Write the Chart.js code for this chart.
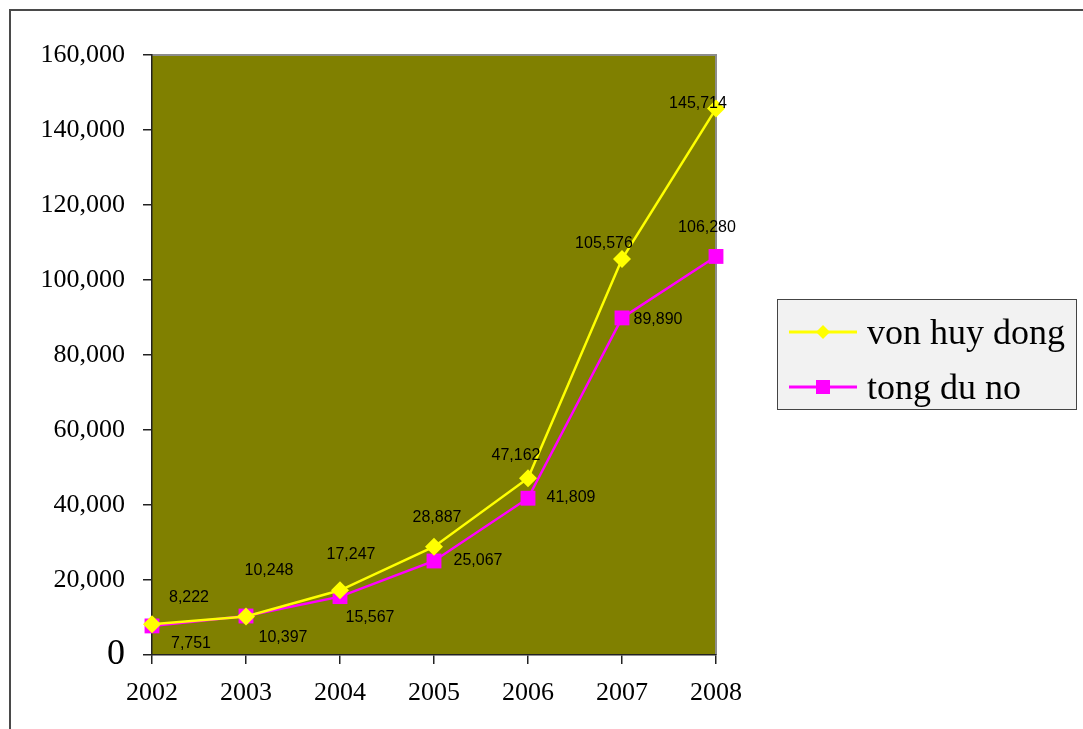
<!DOCTYPE html>
<html>
<head>
<meta charset="utf-8">
<script src="https://cdn.jsdelivr.net/npm/chart.js@4.4.1/dist/chart.umd.min.js"></script>
<style>
  html, body { margin: 0; padding: 0; background: #fff; overflow: hidden; }
  #frame { position: absolute; left: 9px; top: 9px; width: 1200px; height: 900px; border: 2px solid #4a4a4a; box-sizing: border-box; }
  #wrap { position: absolute; left: 0; top: 0; width: 1083px; height: 729px; }
  #legend { position: absolute; left: 777px; top: 299px; width: 300px; height: 111px; box-sizing: border-box;
            background: #f2f2f2; border: 1.5px solid #444; font-family: "Liberation Serif", "Times New Roman", serif; font-size: 36px; color: #000; }
  .item { position: absolute; left: 11px; height: 40px; display: flex; align-items: center; }
  .item canvas { margin-right: 10px; }
</style>
</head>
<body>
<div id="frame"></div>
<div id="wrap"><canvas id="c" width="1083" height="729"></canvas></div>
<div id="legend">
  <div class="item" style="top:12px"><canvas id="lg0" width="68" height="20"></canvas><span>von huy dong</span></div>
  <div class="item" style="top:67px"><canvas id="lg1" width="68" height="20"></canvas><span>tong du no</span></div>
</div>
<script>
const years = ['2002', '2003', '2004', '2005', '2006', '2007', '2008'];
const vonHuyDong = [8222, 10248, 17247, 28887, 47162, 105576, 145714];
const tongDuNo = [7751, 10397, 15567, 25067, 41809, 89890, 106280];
const yTicks = [0, 20000, 40000, 60000, 80000, 100000, 120000, 140000, 160000];

// label offsets (px) from each point
const vonLabelPos = [[37, -27], [23, -46], [11, -36], [3, -29], [-12, -23], [-18, -15], [-18, -5]];
const duNoLabelPos = [[39, 18], [37, 22], [30, 21], [44, 0], [43, -1], [36, 2], [-9, -29]];

const fmt = v => v.toLocaleString('en-US');

const plotBg = {
  id: 'plotBg',
  beforeDraw(chart) {
    const { ctx, chartArea: a } = chart;
    ctx.save();
    ctx.fillStyle = '#808000';
    ctx.fillRect(a.left, a.top, a.right - a.left, a.bottom - a.top);
    ctx.strokeStyle = '#8c8c8c';
    ctx.lineWidth = 2;
    ctx.beginPath();
    ctx.moveTo(a.left, a.top);
    ctx.lineTo(a.right, a.top);
    ctx.lineTo(a.right, a.bottom);
    ctx.stroke();
    ctx.restore();
  }
};

const valueLabels = {
  id: 'valueLabels',
  afterDatasetsDraw(chart) {
    const { ctx } = chart;
    const offsets = [vonLabelPos, duNoLabelPos];
    ctx.save();
    ctx.font = '16px "Liberation Sans", Arial, sans-serif';
    ctx.fillStyle = '#000';
    ctx.textAlign = 'center';
    ctx.textBaseline = 'middle';
    chart.data.datasets.forEach((ds, di) => {
      chart.getDatasetMeta(di).data.forEach((pt, i) => {
        const [dx, dy] = offsets[di][i];
        ctx.fillText(fmt(ds.data[i]), pt.x + dx, pt.y + dy);
      });
    });
    ctx.restore();
  }
};

new Chart(document.getElementById('c'), {
  type: 'line',
  data: {
    labels: years,
    datasets: [
      {
        label: 'von huy dong',
        data: vonHuyDong,
        borderColor: '#ffff00',
        backgroundColor: '#ffff00',
        borderWidth: 2.5,
        pointStyle: 'rectRot',
        pointRadius: 9,
        pointBorderWidth: 0,
        clip: false
      },
      {
        label: 'tong du no',
        data: tongDuNo,
        borderColor: '#ff00ff',
        backgroundColor: '#ff00ff',
        borderWidth: 2.5,
        pointStyle: 'rect',
        pointRadius: 10.5,
        pointBorderWidth: 0,
        clip: false
      }
    ]
  },
  options: {
    responsive: false,
    animation: false,
    layout: { padding: { left: 0, top: 55, right: 367, bottom: 0 } },
    plugins: { legend: { display: false }, tooltip: { enabled: false } },
    scales: {
      x: {
        offset: false,
        grid: { display: true, drawOnChartArea: false, drawTicks: true, tickLength: 9, color: '#222', lineWidth: 1.5 },
        border: { display: true, color: '#222', width: 1.5 },
        ticks: { color: '#000', font: { family: '"Liberation Serif", "Times New Roman", serif', size: 26 }, padding: 14, maxRotation: 0, autoSkip: false },
        afterFit(s) { s.height = 74; }
      },
      y: {
        min: 0,
        max: 160000,
        afterBuildTicks(s) { s.ticks = yTicks.map(v => ({ value: v })); },
        grid: { display: true, drawOnChartArea: false, drawTicks: true, tickLength: 9, color: '#222', lineWidth: 1.5 },
        border: { display: true, color: '#222', width: 1.5 },
        ticks: {
          color: '#000',
          padding: 18,
          font: c => ({ family: '"Liberation Serif", "Times New Roman", serif', size: c.tick && c.tick.value === 0 ? 36 : 26 }),
          callback: v => fmt(v)
        },
        afterFit(s) { s.width = 152; }
      }
    }
  },
  plugins: [plotBg, valueLabels]
});

// legend swatches
function swatch(id, color, style) {
  const ctx = document.getElementById(id).getContext('2d');
  ctx.strokeStyle = color;
  ctx.fillStyle = color;
  ctx.lineWidth = 3;
  ctx.beginPath();
  ctx.moveTo(0, 10);
  ctx.lineTo(68, 10);
  ctx.stroke();
  ctx.beginPath();
  if (style === 'diamond') {
    ctx.moveTo(34, 3); ctx.lineTo(41, 10); ctx.lineTo(34, 17); ctx.lineTo(27, 10);
  } else {
    ctx.rect(27, 3, 14, 14);
  }
  ctx.fill();
}
swatch('lg0', '#ffff00', 'diamond');
swatch('lg1', '#ff00ff', 'square');
</script>
</body>
</html>
